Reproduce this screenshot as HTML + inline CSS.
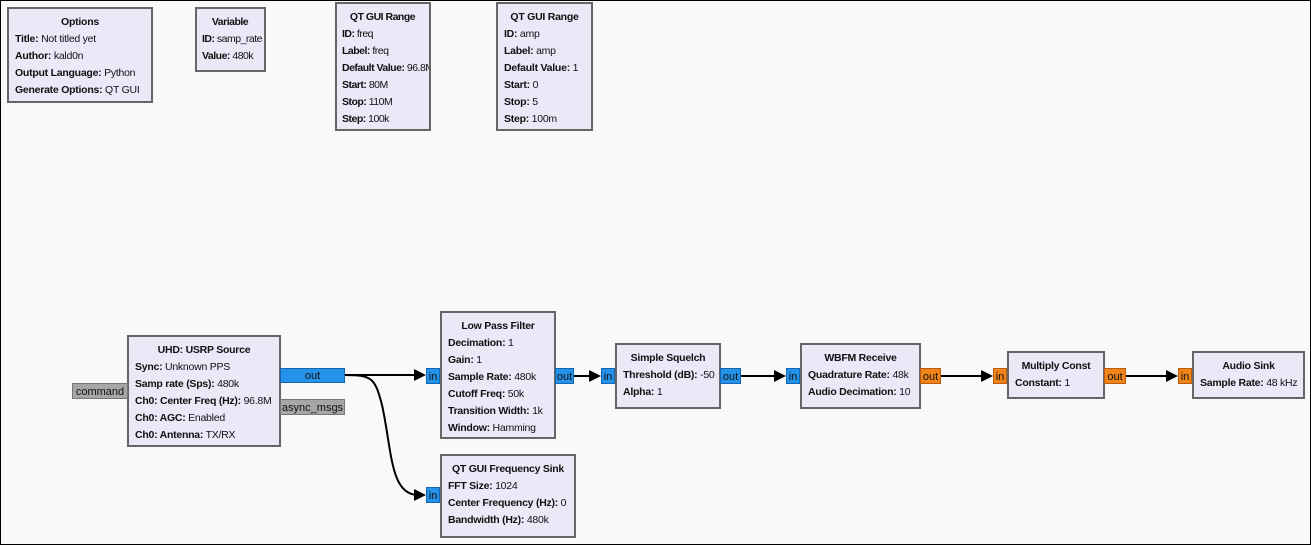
<!DOCTYPE html>
<html><head><meta charset="utf-8"><style>
body{margin:0;width:1311px;height:545px;overflow:hidden;background:#faf9f9;font-family:"Liberation Sans","DejaVu Sans",sans-serif;font-size:10.5px;color:#111;letter-spacing:-0.25px}
#frame{position:absolute;left:0;top:0;width:1309px;height:543px;border:1px solid #000}
.b{position:absolute;background:#ebe8f7;border:2px solid #666;box-sizing:border-box;padding:4px 0 0 6px;white-space:nowrap;overflow:hidden}
.b.n{letter-spacing:-0.5px;padding-left:5px}
.b .t{font-weight:bold;text-align:center;height:18px;line-height:18px;margin-left:-6px}
.b .l{height:17px;line-height:17px}
.b b{font-weight:bold}
.p{position:absolute;box-sizing:border-box;font-size:11px;text-align:center;color:#111;letter-spacing:0;overflow:hidden}
.blue{background:#2592ea;border:1px solid #1466b0}
.or{background:#f08418;border:1px solid #b85d10}
.gr{background:#a8a6a4;border:1px solid #777}
svg{position:absolute;left:0;top:0}
</style></head><body>
<div id="frame"></div>
<svg width="1311" height="545">
<g stroke="#000" stroke-width="2" fill="none">
<path d="M345 375 H418"/>
<path d="M345 375 C372 375 375 378 382 405 C392 450 390 495 418 495"/>
<path d="M574 376 H593"/>
<path d="M741 376 H778"/>
<path d="M941 376 H985"/>
<path d="M1126 376 H1170"/>
</g>
<g fill="#000">
<path d="M426 375 l-12 -6 v12z"/>
<path d="M426 495 l-12 -6 v12z"/>
<path d="M601 376 l-12 -6 v12z"/>
<path d="M786 376 l-12 -6 v12z"/>
<path d="M993 376 l-12 -6 v12z"/>
<path d="M1178 376 l-12 -6 v12z"/>
</g>
</svg>

<div class="b" style="left:7px;top:7px;width:146px;height:96px"><div class="t">Options</div><div class="l"><b>Title:</b> Not titled yet</div><div class="l"><b>Author:</b> kald0n</div><div class="l"><b>Output Language:</b> Python</div><div class="l"><b>Generate Options:</b> QT GUI</div></div>
<div class="b n" style="left:195px;top:7px;width:71px;height:65px"><div class="t">Variable</div><div class="l"><b>ID:</b> samp_rate</div><div class="l"><b>Value:</b> 480k</div></div>
<div class="b n" style="left:335px;top:2px;width:96px;height:129px"><div class="t">QT GUI Range</div><div class="l"><b>ID:</b> freq</div><div class="l"><b>Label:</b> freq</div><div class="l"><b>Default Value:</b> 96.8M</div><div class="l"><b>Start:</b> 80M</div><div class="l"><b>Stop:</b> 110M</div><div class="l"><b>Step:</b> 100k</div></div>
<div class="b" style="left:496px;top:2px;width:97px;height:129px"><div class="t">QT GUI Range</div><div class="l"><b>ID:</b> amp</div><div class="l"><b>Label:</b> amp</div><div class="l"><b>Default Value:</b> 1</div><div class="l"><b>Start:</b> 0</div><div class="l"><b>Stop:</b> 5</div><div class="l"><b>Step:</b> 100m</div></div>

<div class="b" style="left:127px;top:335px;width:154px;height:112px"><div class="t">UHD: USRP Source</div><div class="l"><b>Sync:</b> Unknown PPS</div><div class="l"><b>Samp rate (Sps):</b> 480k</div><div class="l"><b>Ch0: Center Freq (Hz):</b> 96.8M</div><div class="l"><b>Ch0: AGC:</b> Enabled</div><div class="l"><b>Ch0: Antenna:</b> TX/RX</div></div>
<div class="p blue" style="left:280px;top:368px;width:65px;height:15px;line-height:15px">out</div>
<div class="p gr" style="left:72px;top:383px;width:56px;height:16px;line-height:16px">command</div>
<div class="p gr" style="left:280px;top:399px;width:65px;height:16px;line-height:16px">async_msgs</div>

<div class="b" style="left:440px;top:311px;width:116px;height:128px"><div class="t">Low Pass Filter</div><div class="l"><b>Decimation:</b> 1</div><div class="l"><b>Gain:</b> 1</div><div class="l"><b>Sample Rate:</b> 480k</div><div class="l"><b>Cutoff Freq:</b> 50k</div><div class="l"><b>Transition Width:</b> 1k</div><div class="l"><b>Window:</b> Hamming</div></div>
<div class="p blue" style="left:426px;top:368px;width:14px;height:16px;line-height:16px">in</div>
<div class="p blue" style="left:555px;top:368px;width:19px;height:16px;line-height:16px">out</div>

<div class="b" style="left:440px;top:454px;width:136px;height:84px"><div class="t">QT GUI Frequency Sink</div><div class="l"><b>FFT Size:</b> 1024</div><div class="l"><b>Center Frequency (Hz):</b> 0</div><div class="l"><b>Bandwidth (Hz):</b> 480k</div></div>
<div class="p blue" style="left:426px;top:487px;width:14px;height:16px;line-height:16px">in</div>

<div class="b" style="left:615px;top:343px;width:106px;height:66px"><div class="t">Simple Squelch</div><div class="l"><b>Threshold (dB):</b> -50</div><div class="l"><b>Alpha:</b> 1</div></div>
<div class="p blue" style="left:601px;top:368px;width:14px;height:16px;line-height:16px">in</div>
<div class="p blue" style="left:720px;top:368px;width:21px;height:16px;line-height:16px">out</div>

<div class="b" style="left:800px;top:343px;width:121px;height:66px"><div class="t">WBFM Receive</div><div class="l"><b>Quadrature Rate:</b> 48k</div><div class="l"><b>Audio Decimation:</b> 10</div></div>
<div class="p blue" style="left:786px;top:368px;width:14px;height:16px;line-height:16px">in</div>
<div class="p or" style="left:920px;top:368px;width:21px;height:16px;line-height:16px">out</div>

<div class="b" style="left:1007px;top:351px;width:98px;height:48px"><div class="t">Multiply Const</div><div class="l"><b>Constant:</b> 1</div></div>
<div class="p or" style="left:993px;top:368px;width:14px;height:16px;line-height:16px">in</div>
<div class="p or" style="left:1104px;top:368px;width:22px;height:16px;line-height:16px">out</div>

<div class="b" style="left:1192px;top:351px;width:113px;height:48px"><div class="t">Audio Sink</div><div class="l"><b>Sample Rate:</b> 48 kHz</div></div>
<div class="p or" style="left:1178px;top:368px;width:14px;height:16px;line-height:16px">in</div>
</body></html>
